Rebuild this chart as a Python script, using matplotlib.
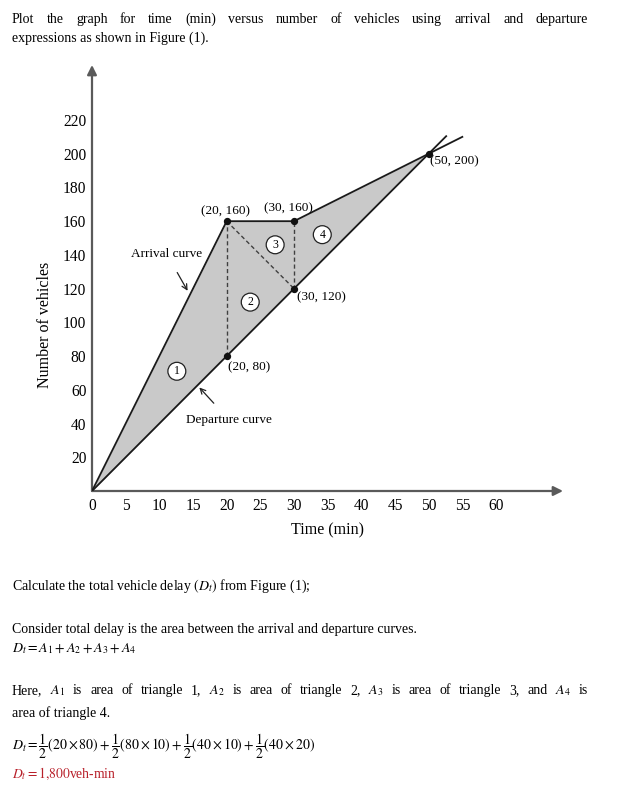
import matplotlib
matplotlib.use("Agg")
import matplotlib.pyplot as plt

plt.rcParams['font.family'] = ['Liberation Serif', 'DejaVu Serif']
plt.rcParams['mathtext.fontset'] = 'stix'

W, H = 623, 788

# arrival / departure cumulative curves
arrival_t = [0, 20, 30, 50, 55]
arrival_n = [0, 160, 160, 200, 210]
departure_t = [0, 20, 30, 50, 52.6]
departure_n = [0, 80, 120, 200, 210.4]

# delay area between curves (up to the meeting point)
area_t = [0, 20, 30, 50]
area_top = [0, 160, 160, 200]
area_bot = [0, 80, 120, 200]

x_ticks = [0, 5, 10, 15, 20, 25, 30, 35, 40, 45, 50, 55, 60]
y_ticks = [20, 40, 60, 80, 100, 120, 140, 160, 180, 200, 220]

key_t = [20, 30, 30, 20, 50]
key_n = [160, 160, 120, 80, 200]
key_labels = ["(20, 160)", "(30, 160)", "(30, 120)", "(20, 80)", "(50, 200)"]

tri_labels = ["1", "2", "3", "4"]
tri_t = [12.6, 23.5, 27.2, 34.2]
tri_n = [71, 112, 146, 152]

PX_T = (496 - 92) / 60.0
PX_N = (491 - 120) / 220.0

fig = plt.figure(figsize=(W / 100, H / 100), dpi=100)
ax = fig.add_axes([92 / W, (H - 491) / H, (563 - 92) / W, (491 - 65) / H])
ax.set_xlim(0, (563 - 92) / PX_T)
ax.set_ylim(0, (491 - 65) / PX_N)
for s in ax.spines.values():
    s.set_visible(False)
ax.patch.set_alpha(0)

axis_col = '#5a5a5a'
ax.annotate('', xy=(1, 0), xytext=(0, 0), xycoords='axes fraction',
            arrowprops=dict(arrowstyle='-|>', color=axis_col, lw=1.6,
                            mutation_scale=14, shrinkA=0, shrinkB=0))
ax.annotate('', xy=(0, 1), xytext=(0, 0), xycoords='axes fraction',
            arrowprops=dict(arrowstyle='-|>', color=axis_col, lw=1.6,
                            mutation_scale=14, shrinkA=0, shrinkB=0))

ax.set_xticks(x_ticks)
ax.set_xticklabels([str(v) for v in x_ticks], fontsize=11.2)
ax.set_yticks(y_ticks)
ax.set_yticklabels([str(v) for v in y_ticks], fontsize=11.2)
ax.tick_params(axis='both', length=0)
ax.tick_params(axis='x', pad=5)
ax.tick_params(axis='y', pad=4)
ax.set_xlabel("Time (min)", fontsize=11.5, labelpad=6)
ax.text(-47 / PX_T, (491 - 325) / PX_N, "Number of vehicles", rotation=90,
        ha='center', va='center', fontsize=11.5)

ax.fill_between(area_t, area_bot, area_top, color='#c9c9c9', lw=0, zorder=1)
ax.plot(arrival_t, arrival_n, color='#1a1a1a', lw=1.3, zorder=3)
ax.plot(departure_t, departure_n, color='#1a1a1a', lw=1.3, zorder=3)

dash = dict(color='#404040', lw=1.0, ls=(0, (3, 2)), zorder=2)
ax.plot([20, 20], [80, 160], **dash)
ax.plot([30, 30], [120, 160], **dash)
ax.plot([20, 30], [160, 120], **dash)

ax.scatter(key_t, key_n, s=18, color='#111111', zorder=4)
offsets = [(-1, 2.5), (-4, 5), (2, -6), (1, -4), (1, -1)]
aligns = [('center', 'bottom'), ('center', 'bottom'), ('left', 'center'),
          ('left', 'top'), ('left', 'top')]
for t, n, lab, off, (ha, va) in zip(key_t, key_n, key_labels, offsets, aligns):
    ax.annotate(lab, (t, n), xytext=off, textcoords='offset points',
                ha=ha, va=va, fontsize=9.5)

for lab, t, n in zip(tri_labels, tri_t, tri_n):
    ax.text(t, n, lab, ha='center', va='center', fontsize=8.5, zorder=5,
            bbox=dict(boxstyle='circle,pad=0.25', fc='white', ec='#222222', lw=0.9))

ax.annotate("Arrival curve", xy=(14.3, 118), xytext=(11.1, 140.5),
            ha='center', va='center', fontsize=9.5,
            arrowprops=dict(arrowstyle='->', color='#222222', lw=0.9,
                            shrinkA=8, shrinkB=1))
ax.annotate("Departure curve", xy=(15.8, 62), xytext=(20.4, 42),
            ha='center', va='center', fontsize=9.5,
            arrowprops=dict(arrowstyle='->', color='#222222', lw=0.9,
                            shrinkA=8, shrinkB=1))

renderer = fig.canvas.get_renderer()
BODY = 10


def put_line(y, text, x0=12, x1=None, size=BODY, color='black', va='baseline'):
    if x1 is None:
        fig.text(x0 / W, 1 - y / H, text, ha='left', va=va,
                 fontsize=size, color=color)
        return
    words = text.split(' ')
    arts = [fig.text(0, 1 - y / H, w, ha='left', va=va, fontsize=size,
                     color=color) for w in words]
    widths = [a.get_window_extent(renderer).width for a in arts]
    gap = (x1 - x0 - sum(widths)) / (len(words) - 1)
    x = x0
    for a, w in zip(arts, widths):
        a.set_x(x / W)
        x += w + gap


put_line(23, "Plot the graph for time (min) versus number of vehicles using arrival and departure", x1=588)
put_line(42, "expressions as shown in Figure (1).")
put_line(590, r"Calculate the total vehicle delay $\left(D_t\right)$ from Figure (1);")
put_line(633, "Consider total delay is the area between the arrival and departure curves.")
put_line(652, r"$D_t=A_1+A_2+A_3+A_4$")
put_line(694, r"Here, $A_1$ is area of triangle 1, $A_2$ is area of triangle 2, $A_3$ is area of triangle 3, and $A_4$ is", x1=588)
put_line(717, "area of triangle 4.")
put_line(746, r"$D_t=\dfrac{1}{2}(20\times 80)+\dfrac{1}{2}(80\times 10)+\dfrac{1}{2}(40\times 10)+\dfrac{1}{2}(40\times 20)$",
         size=10, va='center')
put_line(778, r"$D_t=1{,}800$veh-min", size=9.8, color='#b8202a')

fig.savefig("out.png", dpi=100)
